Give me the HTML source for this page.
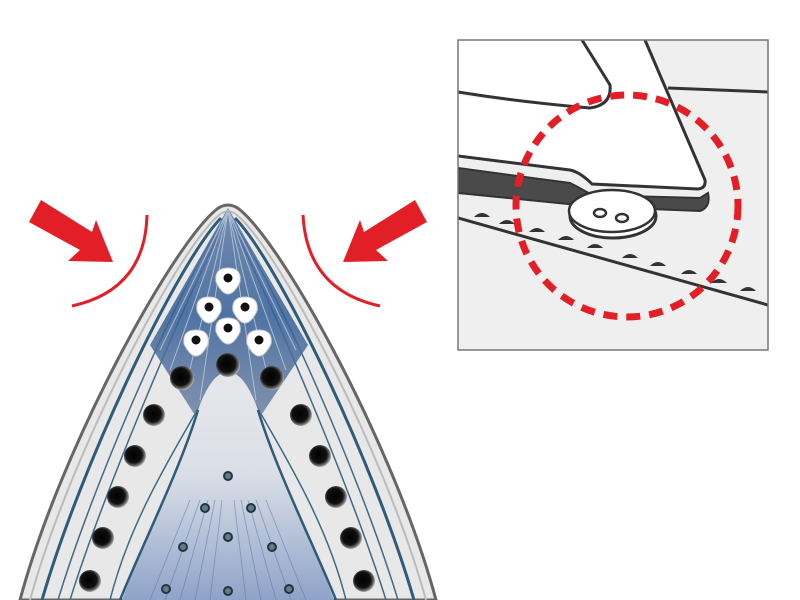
<!DOCTYPE html>
<html><head><meta charset="utf-8"><style>html,body{margin:0;padding:0;background:#fff;width:800px;height:600px;overflow:hidden}</style></head>
<body>
<svg width="800" height="600" viewBox="0 0 800 600" xmlns="http://www.w3.org/2000/svg">
<defs>
<linearGradient id="cg" x1="0" y1="0" x2="0" y2="1">
<stop offset="0" stop-color="#e6e7ea"/><stop offset="0.45" stop-color="#dadfe7"/><stop offset="1" stop-color="#8fa3c8"/>
</linearGradient>
<linearGradient id="tg" x1="0" y1="0" x2="0" y2="1">
<stop offset="0" stop-color="#5f7aa5"/><stop offset="0.5" stop-color="#345f96"/><stop offset="1" stop-color="#7283a6"/>
</linearGradient>
<radialGradient id="hole" cx="0.45" cy="0.45" r="0.6">
<stop offset="0" stop-color="#000"/><stop offset="0.6" stop-color="#111"/><stop offset="0.8" stop-color="#666"/><stop offset="1" stop-color="#ddd"/>
</radialGradient>
</defs>
<path d="M20 600 C60 450,172 245,217 209 Q228 201,239 209 C284 245,396 450,436 600 Z" fill="#e8e8e8" stroke="#666" stroke-width="3"/>
<path d="M30 600 C70 455,176 252,219 215 Q228 208,237 215 C280 252,386 455,426 600" fill="none" stroke="#bbb" stroke-width="2"/>
<g fill="none" stroke="#2e5b7a" stroke-width="3">
<path d="M42 600 C82 462,178 262,221 218"/>
<path d="M414 600 C374 462,278 262,235 218"/>
</g>
<g fill="none" stroke="#3d6a88" stroke-width="1.5">
<path d="M58 600 C96 475,182 282,223 222"/>
<path d="M70 600 C106 485,186 300,224 224"/>
<path d="M398 600 C360 475,274 282,233 222"/>
<path d="M386 600 C350 485,270 300,232 224"/>
<path d="M110 600 C130 520,175 450,200 405"/>
<path d="M346 600 C326 520,281 450,256 405"/>
</g>
<path d="M228 208 L150 345 L198 420 L215 378 L241 378 L258 420 L308 345 Z" fill="url(#tg)" opacity="0.85"/>
<g stroke="#c0ccdf" stroke-width="1" opacity="0.8">
<line x1="228" y1="210" x2="170" y2="370"/><line x1="228" y1="210" x2="185" y2="390"/><line x1="228" y1="210" x2="200" y2="400"/>
<line x1="228" y1="210" x2="286" y2="370"/><line x1="228" y1="210" x2="271" y2="390"/><line x1="228" y1="210" x2="256" y2="400"/>
<line x1="228" y1="210" x2="160" y2="350"/><line x1="228" y1="210" x2="296" y2="350"/>
</g>
<path d="M228 372 C215 372,205 390,198 410 C180 470,140 550,122 600 L334 600 C316 550,276 470,258 410 C251 390,241 372,228 372 Z" fill="url(#cg)"/>
<path d="M198 410 C180 470,140 550,120 600 M258 410 C276 470,316 550,336 600" fill="none" stroke="#2e5b7a" stroke-width="2.5"/>
<g stroke="#4f6fa8" stroke-width="1" opacity="0.45">
<line x1="150" y1="600" x2="190" y2="500"/><line x1="165" y1="600" x2="200" y2="500"/><line x1="180" y1="600" x2="208" y2="500"/><line x1="195" y1="600" x2="215" y2="500"/><line x1="210" y1="600" x2="222" y2="500"/>
<line x1="306" y1="600" x2="266" y2="500"/><line x1="291" y1="600" x2="256" y2="500"/><line x1="276" y1="600" x2="248" y2="500"/><line x1="261" y1="600" x2="241" y2="500"/><line x1="246" y1="600" x2="234" y2="500"/>
</g>
<g fill="#fff" stroke="#ccc" stroke-width="1">
<path d="M228 268 Q242 268,240 282 Q234 294,228 294 Q222 294,216 282 Q214 268,228 268Z"/>
<path d="M209 297 Q223 297,221 311 Q215 323,209 323 Q203 323,197 311 Q195 297,209 297Z"/>
<path d="M245 297 Q259 297,257 311 Q251 323,245 323 Q239 323,233 311 Q231 297,245 297Z"/>
<path d="M228 318 Q242 318,240 332 Q234 344,228 344 Q222 344,216 332 Q214 318,228 318Z"/>
<path d="M196 330 Q210 330,208 344 Q202 356,196 356 Q190 356,184 344 Q182 330,196 330Z"/>
<path d="M259 330 Q273 330,271 344 Q265 356,259 356 Q253 356,247 344 Q245 330,259 330Z"/>
</g>
<g fill="#111"><circle cx="228" cy="278" r="4.5"/><circle cx="209" cy="307" r="4.5"/><circle cx="245" cy="307" r="4.5"/><circle cx="228" cy="328" r="4.5"/><circle cx="196" cy="340" r="4.5"/><circle cx="259" cy="340" r="4.5"/></g>
<g fill="url(#hole)">
<circle cx="228" cy="365" r="12"/><circle cx="182" cy="378" r="12"/><circle cx="272" cy="378" r="12"/>
<circle cx="154" cy="415" r="11"/><circle cx="135" cy="456" r="11"/><circle cx="118" cy="497" r="11"/><circle cx="103" cy="538" r="11"/><circle cx="90" cy="581" r="11"/>
<circle cx="301" cy="415" r="11"/><circle cx="320" cy="456" r="11"/><circle cx="336" cy="497" r="11"/><circle cx="351" cy="538" r="11"/><circle cx="364" cy="581" r="11"/>
</g>
<g fill="#6a7a82" stroke="#1d3545" stroke-width="2">
<circle cx="228" cy="476" r="4"/><circle cx="205" cy="508" r="4"/><circle cx="251" cy="508" r="4"/><circle cx="228" cy="537" r="4"/>
<circle cx="183" cy="547" r="4"/><circle cx="272" cy="547" r="4"/><circle cx="166" cy="589" r="4"/><circle cx="228" cy="591" r="4"/><circle cx="289" cy="589" r="4"/>
</g>
<polygon points="41,200 92,232 96,220 113,262 68,261 80,250 29,222" fill="#e21f26"/>
<polygon points="415,200 364,232 360,220 343,262 388,261 376,250 427,222" fill="#e21f26"/>
<path d="M147 215 Q145 290 72 306" fill="none" stroke="#e21f26" stroke-width="3"/>
<path d="M303 215 Q307 290 380 306" fill="none" stroke="#e21f26" stroke-width="3"/>
<svg x="458" y="40" width="310" height="310" viewBox="458 40 310 310">
<rect x="458" y="40" width="310" height="310" fill="#efefef"/>
<path d="M458 40 L580 40 L610 85 Q612 105,590 108 Q520 102,458 92 Z" fill="#fff"/>
<path d="M580 40 L643 40 L705 180 Q706 188,700 189 L590 183 Q580 172,570 170 L458 156 L458 95 Q520 104,590 108 Q612 105,610 85 Z" fill="#fff"/>
<path d="M668 88 L768 92" stroke="#333" stroke-width="3" fill="none"/>
<path d="M582 40 L610 85 Q612 105,590 108 Q520 102,458 92" fill="none" stroke="#333" stroke-width="3"/>
<path d="M645 40 L705 180 Q706 188,698 189 L592 184 Q580 172,570 170 L458 156" fill="none" stroke="#333" stroke-width="3"/>
<path d="M458 168 L570 183 Q580 188,592 195 L700 198 L708 193 Q711 207,700 211 L600 207 L568 204 L458 193 Z" fill="#4a4a4a" stroke="#333" stroke-width="2"/>
<ellipse cx="613" cy="216" rx="43" ry="22" fill="#fff" stroke="#333" stroke-width="3"/>
<ellipse cx="612" cy="211" rx="43" ry="21" fill="#fff" stroke="#333" stroke-width="2.5"/>
<ellipse cx="600" cy="213" rx="6" ry="4" fill="none" stroke="#333" stroke-width="2.5"/>
<ellipse cx="622" cy="218" rx="6" ry="4" fill="none" stroke="#333" stroke-width="2.5"/>
<line x1="458" y1="218" x2="768" y2="305" stroke="#333" stroke-width="3"/>
<g fill="#333">
<path d="M474 217 q8 -8 16 0 z"/><path d="M499 224 q8 -8 16 0 z"/><path d="M529 232 q8 -8 16 0 z"/><path d="M558 240 q8 -8 16 0 z"/>
<path d="M587 248 q8 -8 16 0 z"/><path d="M622 258 q8 -8 16 0 z"/><path d="M650 266 q8 -8 16 0 z"/><path d="M681 274 q8 -8 16 0 z"/>
<path d="M711 283 q8 -8 16 0 z"/><path d="M740 291 q8 -8 16 0 z"/>
</g>
<circle cx="627" cy="206" r="111" fill="none" stroke="#e21f26" stroke-width="7" stroke-dasharray="14 9"/>
</svg>
<rect x="458" y="40" width="310" height="310" fill="none" stroke="#777" stroke-width="1.5"/>
</svg>
</body></html>
